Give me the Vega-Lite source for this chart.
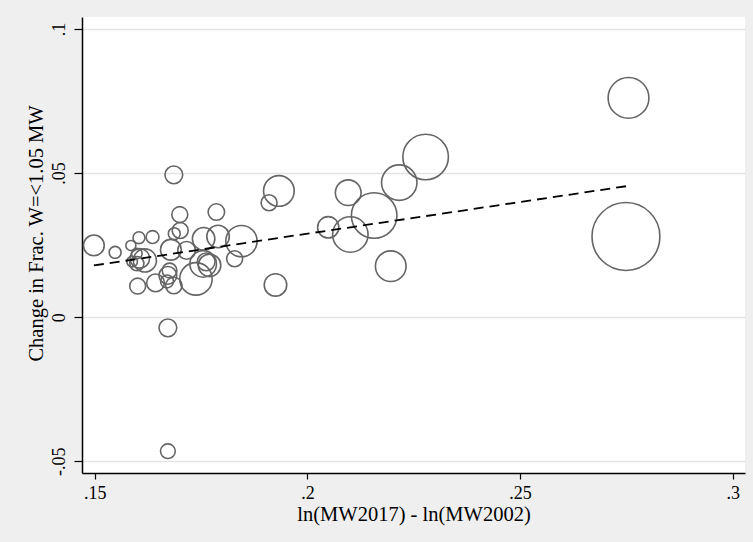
{
  "$schema": "https://vega.github.io/schema/vega-lite/v6.json",
  "width": 663,
  "height": 456,
  "autosize": {"type": "none"},
  "padding": {"left": 82, "top": 17, "right": 8, "bottom": 69},
  "background": "#EFEFEF",
  "config": {
    "view": {"fill": "white", "stroke": null},
    "font": "Liberation Serif",
    "axis": {
      "domainColor": "black",
      "domainWidth": 1.5,
      "tickColor": "black",
      "tickWidth": 1.2,
      "labelColor": "black",
      "labelFont": "Liberation Serif",
      "labelFontSize": 18,
      "titleFont": "Liberation Serif",
      "titleFontSize": 20.5,
      "titleFontWeight": "normal",
      "titleColor": "black"
    }
  },
  "datasets": {
    "states": [
      {"dlnmw": 0.1498, "dfrac": 0.0249, "weight": 137},
      {"dlnmw": 0.1548, "dfrac": 0.0225, "weight": 45},
      {"dlnmw": 0.1585, "dfrac": 0.0249, "weight": 32},
      {"dlnmw": 0.1604, "dfrac": 0.0276, "weight": 45},
      {"dlnmw": 0.1636, "dfrac": 0.0278, "weight": 53},
      {"dlnmw": 0.1588, "dfrac": 0.0193, "weight": 36},
      {"dlnmw": 0.1599, "dfrac": 0.0186, "weight": 64},
      {"dlnmw": 0.1606, "dfrac": 0.0204, "weight": 121},
      {"dlnmw": 0.1618, "dfrac": 0.0197, "weight": 169},
      {"dlnmw": 0.1599, "dfrac": 0.0221, "weight": 36},
      {"dlnmw": 0.1601, "dfrac": 0.0108, "weight": 81},
      {"dlnmw": 0.1643, "dfrac": 0.0119, "weight": 100},
      {"dlnmw": 0.1686, "dfrac": 0.0494, "weight": 100},
      {"dlnmw": 0.1700, "dfrac": 0.0356, "weight": 81},
      {"dlnmw": 0.1701, "dfrac": 0.0301, "weight": 81},
      {"dlnmw": 0.1687, "dfrac": 0.0290, "weight": 45},
      {"dlnmw": 0.1679, "dfrac": 0.0234, "weight": 137},
      {"dlnmw": 0.1716, "dfrac": 0.0232, "weight": 100},
      {"dlnmw": 0.1786, "dfrac": 0.0365, "weight": 86},
      {"dlnmw": 0.1756, "dfrac": 0.0272, "weight": 161},
      {"dlnmw": 0.1790, "dfrac": 0.0280, "weight": 161},
      {"dlnmw": 0.1845, "dfrac": 0.0264, "weight": 313},
      {"dlnmw": 0.1829, "dfrac": 0.0203, "weight": 81},
      {"dlnmw": 0.1738, "dfrac": 0.0133, "weight": 335},
      {"dlnmw": 0.1755, "dfrac": 0.0185, "weight": 225},
      {"dlnmw": 0.1770, "dfrac": 0.0180, "weight": 161},
      {"dlnmw": 0.1762, "dfrac": 0.0192, "weight": 100},
      {"dlnmw": 0.1672, "dfrac": 0.0145, "weight": 100},
      {"dlnmw": 0.1670, "dfrac": 0.0124, "weight": 53},
      {"dlnmw": 0.1686, "dfrac": 0.0110, "weight": 86},
      {"dlnmw": 0.1676, "dfrac": 0.0162, "weight": 69},
      {"dlnmw": 0.1672, "dfrac": -0.0037, "weight": 100},
      {"dlnmw": 0.1672, "dfrac": -0.0465, "weight": 69},
      {"dlnmw": 0.1910, "dfrac": 0.0397, "weight": 81},
      {"dlnmw": 0.1933, "dfrac": 0.0438, "weight": 299},
      {"dlnmw": 0.1925, "dfrac": 0.0112, "weight": 161},
      {"dlnmw": 0.2049, "dfrac": 0.0312, "weight": 144},
      {"dlnmw": 0.2096, "dfrac": 0.0432, "weight": 210},
      {"dlnmw": 0.2101, "dfrac": 0.0287, "weight": 400},
      {"dlnmw": 0.2157, "dfrac": 0.0353, "weight": 660},
      {"dlnmw": 0.2216, "dfrac": 0.0467, "weight": 400},
      {"dlnmw": 0.2278, "dfrac": 0.0556, "weight": 660},
      {"dlnmw": 0.2196, "dfrac": 0.0177, "weight": 299},
      {"dlnmw": 0.2755, "dfrac": 0.0761, "weight": 529},
      {"dlnmw": 0.2749, "dfrac": 0.0280, "weight": 1467}
    ],
    "fit": [
      {"dlnmw": 0.1498, "fitted": 0.01795},
      {"dlnmw": 0.2752, "fitted": 0.0455}
    ]
  },
  "layer": [
    {
      "data": {"name": "states"},
      "mark": {"type": "point", "shape": "circle", "filled": false, "stroke": "#656565", "strokeWidth": 1.6, "opacity": 1},
      "encoding": {
        "x": {
          "field": "dlnmw", "type": "quantitative",
          "scale": {"domain": [0.14701, 0.30289], "nice": false, "zero": false},
          "axis": {
            "values": [0.15, 0.2, 0.25, 0.3],
            "grid": false,
            "tickSize": 6,
            "labelPadding": 5,
            "labelExpr": "datum.value < 0.175 ? '.15' : datum.value < 0.225 ? '.2' : datum.value < 0.275 ? '.25' : '.3'",
            "title": "ln(MW2017) - ln(MW2002)",
            "titleBaseline": "alphabetic",
            "titleY": 47
          }
        },
        "y": {
          "field": "dfrac", "type": "quantitative",
          "scale": {"domain": [-0.05406, 0.10417], "nice": false, "zero": false},
          "axis": {
            "values": [-0.05, 0, 0.05, 0.1],
            "grid": true,
            "gridColor": "#E4E4E4",
            "gridWidth": 1.5,
            "tickSize": 8,
            "labelAngle": 270,
            "labelAlign": "center",
            "labelBaseline": "alphabetic",
            "labelPadding": 10,
            "labelExpr": "datum.value < -0.025 ? '-.05' : datum.value < 0.025 ? '0' : datum.value < 0.075 ? '.05' : '.1'",
            "title": "Change in Frac.  W=<1.05 MW",
            "titleBaseline": "alphabetic",
            "titleX": -40,
            "titleY": 216
          }
        },
        "size": {
          "field": "weight", "type": "quantitative",
          "scale": {"type": "linear", "domain": [0, 1000], "range": [0, 3141.6]},
          "legend": null
        }
      }
    },
    {
      "data": {"name": "fit"},
      "mark": {"type": "line", "color": "black", "strokeDash": [10, 6], "strokeWidth": 1.8},
      "encoding": {
        "x": {"field": "dlnmw", "type": "quantitative"},
        "y": {"field": "fitted", "type": "quantitative"}
      }
    }
  ]
}
